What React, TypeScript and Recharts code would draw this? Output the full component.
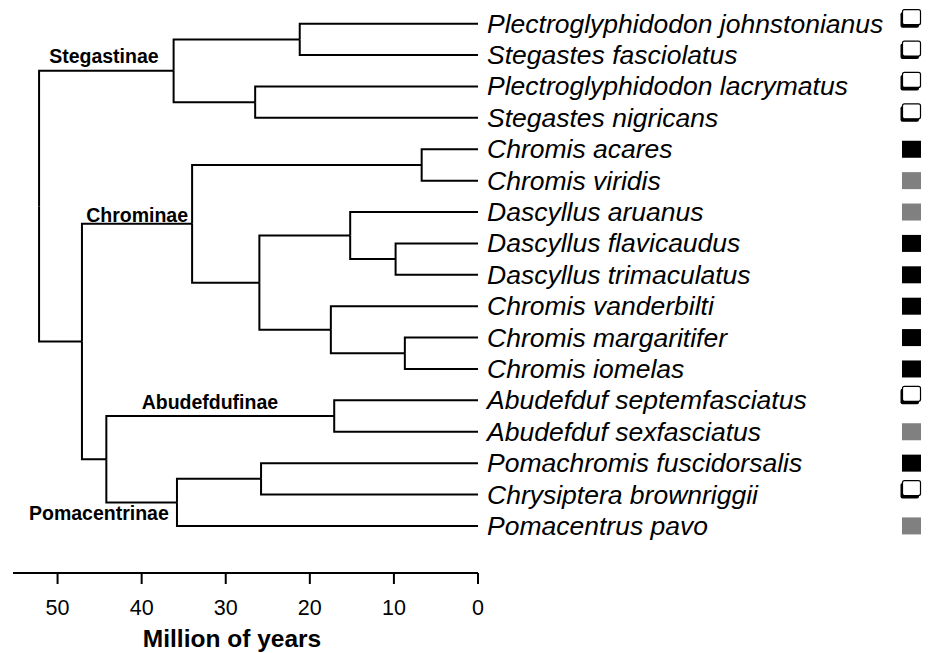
import React from 'react';
import { ComposedChart, Scatter, XAxis, YAxis } from 'recharts';

// tips, top to bottom
const leafNames = [
  'Plectroglyphidodon johnstonianus',
  'Stegastes fasciolatus',
  'Plectroglyphidodon lacrymatus',
  'Stegastes nigricans',
  'Chromis acares',
  'Chromis viridis',
  'Dascyllus aruanus',
  'Dascyllus flavicaudus',
  'Dascyllus trimaculatus',
  'Chromis vanderbilti',
  'Chromis margaritifer',
  'Chromis iomelas',
  'Abudefduf septemfasciatus',
  'Abudefduf sexfasciatus',
  'Pomachromis fuscidorsalis',
  'Chrysiptera brownriggii',
  'Pomacentrus pavo',
];

// character state box shown right of each tip
const leafTrait = [
  'open', 'open', 'open', 'open', 'black', 'gray', 'gray', 'black', 'black',
  'black', 'black', 'black', 'open', 'gray', 'black', 'open', 'gray',
];

// internal nodes: age (million years) and their two descendants (tip index or node key)
const nodeKeys = [
  'root', 'stegastinae', 'johnFasc', 'lacrNigr', 'n1', 'chrominae', 'acaVir', 'dasChr',
  'dascyllus', 'flaTri', 'vanClade', 'marIom', 'n2', 'abudefduf', 'pomacentrinae', 'pomChr',
];
const nodeAges = [52.2, 36.2, 21.2, 26.5, 47.1, 34.0, 6.7, 26.0, 15.2, 9.8, 17.5, 8.7, 44.2, 17.1, 35.8, 25.8];
const nodeChildren: (string | number)[][] = [
  ['stegastinae', 'n1'],
  ['johnFasc', 'lacrNigr'],
  [0, 1],
  [2, 3],
  ['chrominae', 'n2'],
  ['acaVir', 'dasChr'],
  [4, 5],
  ['dascyllus', 'vanClade'],
  [6, 'flaTri'],
  [7, 8],
  [9, 'marIom'],
  [10, 11],
  ['abudefduf', 'pomacentrinae'],
  [12, 13],
  ['pomChr', 16],
  [14, 15],
];

// subfamily labels: text, left edge (Myr), baseline (row)
const cladeNames = ['Stegastinae', 'Chrominae', 'Abudefdufinae', 'Pomacentrinae'];
const cladeAges = [51.0, 46.6, 40.0, 53.4];
const cladeRows = [1.26, 6.31, 12.27, 15.82];

const timeTicks = [0, 10, 20, 30, 40, 50];

const FONT = '"Liberation Sans", Arial, sans-serif';
const traitColor: Record<string, string> = { black: '#000000', gray: '#808080' };

const ageOf = (c: string | number) => (typeof c === 'number' ? 0 : nodeAges[nodeKeys.indexOf(c)]);
const rowOf = (c: string | number): number => {
  if (typeof c === 'number') return c;
  const kids = nodeChildren[nodeKeys.indexOf(c)];
  return (rowOf(kids[0]) + rowOf(kids[1])) / 2;
};

// one elbow per child: along the parent's bar, then across to the child
const branches = nodeKeys.flatMap((k, i) =>
  nodeChildren[i].map((c) => [
    { x: nodeAges[i], y: rowOf(k) },
    { x: nodeAges[i], y: rowOf(c) },
    { x: ageOf(c), y: rowOf(c) },
  ])
);

const tips = leafNames.map((name, i) => ({ x: 0, y: i, name, trait: leafTrait[i] }));
const clades = cladeNames.map((name, i) => ({ x: cladeAges[i], y: cladeRows[i], name }));

const Tip = (props: any) => {
  const { cx, cy } = props;
  const p = props.payload ?? props;
  const sx = cx + 424;
  return (
    <g>
      <text x={cx + 9} y={cy + 9} fontFamily={FONT} fontStyle="italic" fontSize={26.5} fill="#000">
        {p.name}
      </text>
      {p.trait === 'open' ? (
        <g>
          <rect x={sx - 1.5} y={cy - 11.5} width={18.5} height={15.5} rx={2} fill="#000" />
          <rect x={sx + 0.5} y={cy - 14} width={18} height={15} rx={2} fill="#fff" stroke="#000" strokeWidth={1.2} />
        </g>
      ) : (
        <rect x={sx} y={cy - 8.5} width={19} height={17} fill={traitColor[p.trait]} />
      )}
    </g>
  );
};

const CladeLabel = (props: any) => {
  const { cx, cy } = props;
  const p = props.payload ?? props;
  return (
    <text x={cx} y={cy} fontFamily={FONT} fontWeight="bold" fontSize={19.5} fill="#000">
      {p.name}
    </text>
  );
};

const AxisTitle = (props: any) => {
  const vb = props.viewBox;
  return (
    <text
      x={vb.x + vb.width * 0.471}
      y={vb.y + 74}
      textAnchor="middle"
      fontFamily={FONT}
      fontWeight="bold"
      fontSize={24.5}
      fill="#000"
    >
      Million of years
    </text>
  );
};

export default function App() {
  return (
    <div style={{ position: 'absolute', left: 0, top: 0, background: '#fff' }}>
      <ComposedChart width={928} height={653} margin={{ top: 8, right: 450, bottom: 20, left: 13 }}>
        <XAxis
          type="number"
          dataKey="x"
          domain={[0, 55.3]}
          reversed
          ticks={timeTicks}
          height={60}
          axisLine={{ stroke: '#000', strokeWidth: 2 }}
          tickLine={{ stroke: '#000', strokeWidth: 2 }}
          tickSize={11}
          tickMargin={16}
          tick={{ fill: '#000', fontSize: 21.5, fontFamily: FONT }}
          label={<AxisTitle />}
        />
        <YAxis type="number" dataKey="y" domain={[-0.5, 17.5]} reversed hide />
        {branches.map((b, i) => (
          <Scatter
            key={i}
            data={b}
            line={{ stroke: '#000', strokeWidth: 2 }}
            shape={() => <g />}
            isAnimationActive={false}
          />
        ))}
        <Scatter data={tips} shape={<Tip />} isAnimationActive={false} />
        <Scatter data={clades} shape={<CladeLabel />} isAnimationActive={false} />
      </ComposedChart>
    </div>
  );
}
